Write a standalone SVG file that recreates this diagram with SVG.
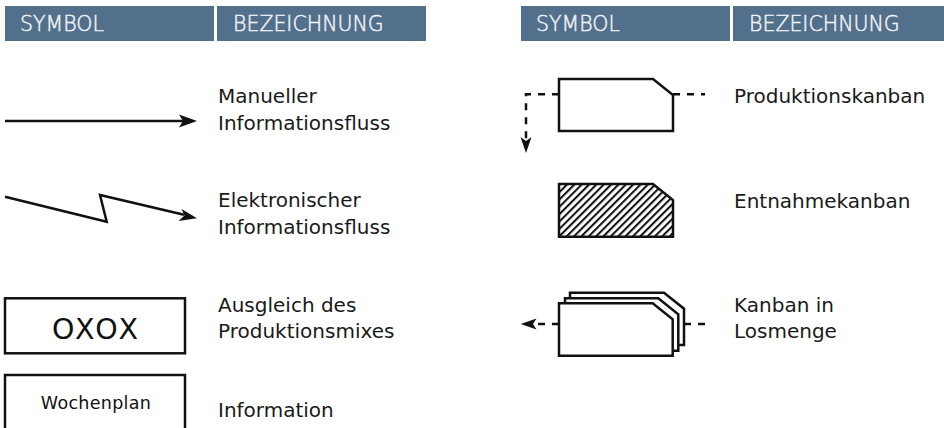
<svg xmlns="http://www.w3.org/2000/svg" width="944" height="428" viewBox="0 0 944 428">
<style>
.hdr{fill:#52708c}
.htxt{font-family:"DejaVu Sans",sans-serif;font-size:20.5px;font-weight:300;fill:#f2f4f6;stroke:#f2f4f6;stroke-width:0.45}
.lbl{font-family:"DejaVu Sans",sans-serif;font-size:20px;fill:#1a1a1a}
.ln{fill:none;stroke:#111;stroke-width:2.5}
.dash{fill:none;stroke:#111;stroke-width:2.5;stroke-dasharray:7 7}
.box{fill:#fff;stroke:#111;stroke-width:2.5}
.head{fill:#111;stroke:none}
</style>
<defs>
<pattern id="hatch" patternUnits="userSpaceOnUse" width="5.2" height="10" patternTransform="rotate(45)">
<line x1="1" y1="0" x2="1" y2="10" stroke="#111" stroke-width="2.1"/>
</pattern>
</defs>
<rect width="944" height="428" fill="#fff"/>
<g id="header">
<rect class="hdr" x="5" y="6" width="209" height="35"/>
<rect class="hdr" x="217" y="6" width="209" height="35"/>
<rect class="hdr" x="521" y="6" width="209" height="35"/>
<rect class="hdr" x="733" y="6" width="211" height="35"/>
<text class="htxt" x="20" y="31">SYMBOL</text>
<text class="htxt" x="233" y="31">BEZEICHNUNG</text>
<text class="htxt" x="536" y="31">SYMBOL</text>
<text class="htxt" x="749" y="31">BEZEICHNUNG</text>
</g>
<g id="connectors">
<g id="manual-flow">
<path class="ln" d="M5,121 H184"/>
<path class="head" d="M197,121 L179,114.5 L183,121 L179,127.5 Z"/>
</g>
<g id="electronic-flow">
<path class="ln" d="M5,196.7 L106.7,221.7 L100,195 L184,214.8"/>
<path class="head" d="M197,218.3 L181.5,209 L184.5,215.5 L178.5,221 Z"/>
</g>
</g>
<g id="labels-left">
<text class="lbl" x="218" y="103">Manueller</text>
<text class="lbl" x="218" y="130">Informationsfluss</text>
<text class="lbl" x="218" y="207">Elektronischer</text>
<text class="lbl" x="218" y="234">Informationsfluss</text>
<text class="lbl" x="218" y="312">Ausgleich des</text>
<text class="lbl" x="218" y="338">Produktionsmixes</text>
<text class="lbl" x="218" y="417">Information</text>
</g>
<g id="oxox">
<rect class="box" x="5" y="298.3" width="180" height="55"/>
<text x="96.2" y="338.5" text-anchor="middle" font-family="DejaVu Sans, sans-serif" font-size="28.5" letter-spacing="2.5" fill="#111">OXOX</text>
</g>
<g id="wochenplan">
<rect class="box" x="5" y="375" width="180" height="70"/>
<text x="96" y="408.5" text-anchor="middle" font-family="DejaVu Sans, sans-serif" font-size="17.5" letter-spacing="0.3" fill="#111">Wochenplan</text>
</g>
<g id="produktionskanban">
<path class="dash" d="M673,94.3 H705"/>
<path class="dash" d="M559,94.3 H526 V139"/>
<path class="head" d="M526,153 L520.5,137 L526,141 L531.5,137 Z"/>
<path class="box" d="M559,79 H653 L673,95 V131 H559 Z"/>
<text class="lbl" x="734" y="103">Produktionskanban</text>
</g>
<g id="entnahmekanban">
<path d="M559,184 H653 L673,200 V236.7 H559 Z" fill="url(#hatch)" stroke="#111" stroke-width="2.5"/>
<text class="lbl" x="734" y="207.5">Entnahmekanban</text>
</g>
<g id="kanban-losmenge">
<path class="dash" d="M684,324 H705"/>
<path class="dash" d="M559,324 H533"/>
<path class="head" d="M520.7,324 L536.5,318.5 L533,324 L536.5,329.5 Z"/>
<path class="box" d="M570,292.7 H664 L684,308.7 V345 H570 Z"/>
<path class="box" d="M565,298.3 H658.3 L678.3,314.3 V350.7 H565 Z"/>
<path class="box" d="M559,303.3 H652.7 L672.7,319.3 V355.7 H559 Z"/>
<text class="lbl" x="734" y="311.7">Kanban in</text>
<text class="lbl" x="734" y="338">Losmenge</text>
</g>
</svg>
